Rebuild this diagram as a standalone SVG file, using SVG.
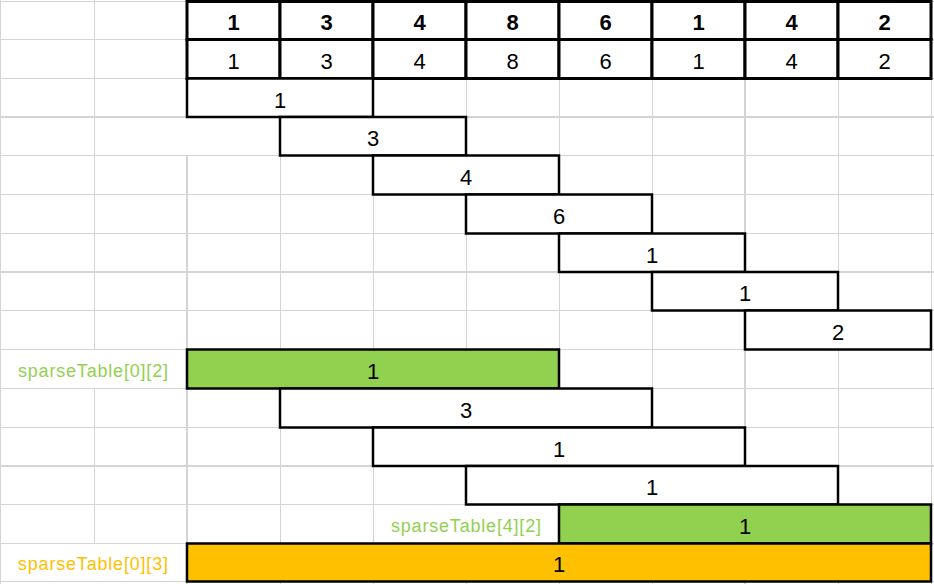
<svg xmlns="http://www.w3.org/2000/svg" width="934" height="584" viewBox="0 0 934 584">
<style>
.g{stroke:#d4d4d4;stroke-width:1;fill:none}
.gt{stroke:#d4d4d4;stroke-width:2;fill:none}
.hd{fill:#fff;stroke:#000;stroke-width:3}
.box{fill:#fff;stroke:#000;stroke-width:2.5}
.green{fill:#92d050}
.orange{fill:#ffc000}
text{font-family:"Liberation Sans",Arial,sans-serif;text-anchor:middle}
.n{font-size:22px;fill:#000}
.b{font-weight:bold}
.lg{font-size:18px;fill:#92d050}
.lo{font-size:18px;fill:#ffc000}
</style>
<rect x="0" y="0" width="934" height="584" fill="#fff"/>
<g id="grid">
<path class="g" d="M0,1.5H934 M0,39.5H934 M0,78.5H934 M0,155.5H934 M0,194.5H934 M0,233.5H934 M0,310.5H934 M0,349.5H934 M0,388.5H934 M0,427.5H934 M0,504.5H934 M0,543.5H934 M0,581.5H934"/>
<path class="gt" d="M0,117H934 M0,272H934 M0,466H934"/>
<path class="g" d="M0.5,0V584 M94.5,0V349 M94.5,388V543 M280.5,0V584 M373.5,0V584 M466.5,0V504 M466.5,543V584 M559.5,0V584 M652.5,0V584 M838.5,0V584 M931.5,0V584"/>
<path class="gt" d="M187,0V117 M187,155V584 M745,0V584"/>
</g>
<g id="header-row">
<g id="h0"><rect class="hd" x="187" y="1.5" width="93" height="38"/><text class="n b" x="233.5" y="30">1</text></g>
<g id="h1"><rect class="hd" x="280" y="1.5" width="93" height="38"/><text class="n b" x="326.5" y="30">3</text></g>
<g id="h2"><rect class="hd" x="373" y="1.5" width="93" height="38"/><text class="n b" x="419.5" y="30">4</text></g>
<g id="h3"><rect class="hd" x="466" y="1.5" width="93" height="38"/><text class="n b" x="512.5" y="30">8</text></g>
<g id="h4"><rect class="hd" x="559" y="1.5" width="93" height="38"/><text class="n b" x="605.5" y="30">6</text></g>
<g id="h5"><rect class="hd" x="652" y="1.5" width="93" height="38"/><text class="n b" x="698.5" y="30">1</text></g>
<g id="h6"><rect class="hd" x="745" y="1.5" width="93" height="38"/><text class="n b" x="791.5" y="30">4</text></g>
<g id="h7"><rect class="hd" x="838" y="1.5" width="93" height="38"/><text class="n b" x="884.5" y="30">2</text></g>
</g>
<g id="level0-row">
<g id="r0"><rect class="hd" x="187" y="39.5" width="93" height="39"/><text class="n" x="233.5" y="68.5">1</text></g>
<g id="r1"><rect class="hd" x="280" y="39.5" width="93" height="39"/><text class="n" x="326.5" y="68.5">3</text></g>
<g id="r2"><rect class="hd" x="373" y="39.5" width="93" height="39"/><text class="n" x="419.5" y="68.5">4</text></g>
<g id="r3"><rect class="hd" x="466" y="39.5" width="93" height="39"/><text class="n" x="512.5" y="68.5">8</text></g>
<g id="r4"><rect class="hd" x="559" y="39.5" width="93" height="39"/><text class="n" x="605.5" y="68.5">6</text></g>
<g id="r5"><rect class="hd" x="652" y="39.5" width="93" height="39"/><text class="n" x="698.5" y="68.5">1</text></g>
<g id="r6"><rect class="hd" x="745" y="39.5" width="93" height="39"/><text class="n" x="791.5" y="68.5">4</text></g>
<g id="r7"><rect class="hd" x="838" y="39.5" width="93" height="39"/><text class="n" x="884.5" y="68.5">2</text></g>
</g>
<g id="l1-0"><rect class="box" x="187" y="78.5" width="186" height="38.5"/><text class="n" x="280" y="107.5">1</text></g>
<g id="l1-1"><rect class="box" x="280" y="117" width="186" height="38.5"/><text class="n" x="373" y="146">3</text></g>
<g id="l1-2"><rect class="box" x="373" y="155.5" width="186" height="39"/><text class="n" x="466" y="185">4</text></g>
<g id="l1-3"><rect class="box" x="466" y="194.5" width="186" height="39"/><text class="n" x="559" y="224">6</text></g>
<g id="l1-4"><rect class="box" x="559" y="233.5" width="186" height="38.5"/><text class="n" x="652" y="262.5">1</text></g>
<g id="l1-5"><rect class="box" x="652" y="272" width="186" height="38.5"/><text class="n" x="745" y="301">1</text></g>
<g id="l1-6"><rect class="box" x="745" y="310.5" width="186" height="39"/><text class="n" x="838" y="340">2</text></g>
<g id="l2-0"><rect class="box green" x="187" y="349.5" width="372" height="39"/><text class="n" x="373" y="379">1</text><text class="lg" x="93" y="377" textLength="150" lengthAdjust="spacing">sparseTable[0][2]</text></g>
<g id="l2-1"><rect class="box" x="280" y="388.5" width="372" height="39"/><text class="n" x="466" y="418">3</text></g>
<g id="l2-2"><rect class="box" x="373" y="427.5" width="372" height="38.5"/><text class="n" x="559" y="456.5">1</text></g>
<g id="l2-3"><rect class="box" x="466" y="466" width="372" height="38.5"/><text class="n" x="652" y="495">1</text></g>
<g id="l2-4"><rect class="box green" x="559" y="504.5" width="372" height="39"/><text class="n" x="745" y="534">1</text><text class="lg" x="466" y="532" textLength="150" lengthAdjust="spacing">sparseTable[4][2]</text></g>
<g id="l3-0"><rect class="box orange" x="187" y="543.5" width="744" height="38"/><text class="n" x="559" y="572">1</text><text class="lo" x="93" y="570" textLength="150" lengthAdjust="spacing">sparseTable[0][3]</text></g>
<g id="connectors"></g>
</svg>
